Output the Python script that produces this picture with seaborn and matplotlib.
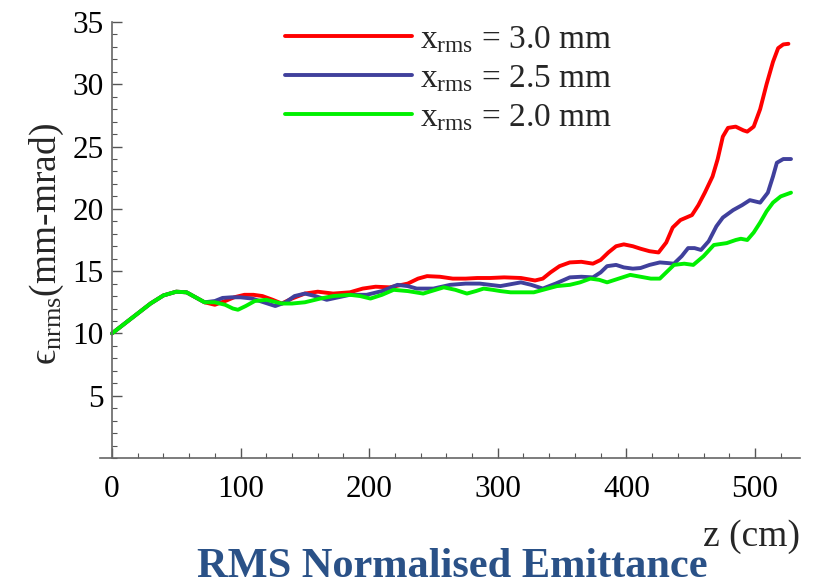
import numpy as np
import pandas as pd
import matplotlib
matplotlib.use("Agg")
import matplotlib.pyplot as plt
from matplotlib.ticker import MultipleLocator
import seaborn as sns

# ---- data ----
z_red = [0, 10, 20, 30, 40, 50, 58, 65, 72, 80, 88, 95, 103, 110, 117, 125, 132, 140, 150, 160,
         172, 185, 195, 205, 216, 230, 238, 245, 255, 265, 275, 284, 294, 305, 318, 329, 335, 341,
         348, 356, 365, 374, 380, 386, 392, 398, 405, 411, 418, 425, 431, 436, 442, 451, 456, 461,
         467, 471, 475, 479, 485, 491, 494, 499, 504, 509, 514, 518, 522, 526]
e_red = [10.0, 10.8, 11.6, 12.4, 13.05, 13.35, 13.3, 12.9, 12.5, 12.3, 12.6, 12.9, 13.1, 13.1, 13.0,
         12.7, 12.4, 12.8, 13.2, 13.35, 13.2, 13.3, 13.6, 13.75, 13.7, 14.0, 14.4, 14.6, 14.55, 14.4,
         14.4, 14.45, 14.45, 14.5, 14.45, 14.25, 14.4, 14.9, 15.4, 15.7, 15.75, 15.6, 15.9, 16.5,
         17.0, 17.15, 17.0, 16.8, 16.6, 16.5, 17.3, 18.5, 19.1, 19.5, 20.3, 21.3, 22.6, 24.0, 25.8,
         26.5, 26.6, 26.3, 26.2, 26.6, 28.0, 30.0, 31.8, 32.9, 33.2, 33.25]

z_blue = [0, 10, 20, 30, 40, 50, 58, 65, 72, 80, 86, 93, 100, 109, 118, 127, 135, 142, 150, 158,
          167, 176, 185, 198, 210, 222, 230, 237, 250, 263, 275, 286, 294, 302, 310, 318, 326, 335,
          345, 356, 365, 374, 380, 385, 392, 398, 405, 411, 418, 426, 432, 437, 443, 448, 453, 458,
          464, 470, 475, 483, 490, 496, 504, 510, 514, 517, 522, 528]
e_blue = [10.0, 10.8, 11.6, 12.4, 13.05, 13.35, 13.3, 12.9, 12.5, 12.6, 12.85, 12.9, 12.9, 12.8, 12.5,
          12.2, 12.5, 13.0, 13.2, 13.0, 12.7, 12.9, 13.1, 13.1, 13.4, 13.9, 13.8, 13.6, 13.6, 13.9,
          14.0, 14.0, 13.9, 13.8, 13.95, 14.1, 13.9, 13.6, 14.0, 14.5, 14.55, 14.5, 14.9, 15.4, 15.5,
          15.3, 15.2, 15.25, 15.5, 15.7, 15.65, 15.6, 16.2, 16.85, 16.85, 16.7, 17.4, 18.6, 19.3,
          19.9, 20.3, 20.7, 20.5, 21.3, 22.6, 23.7, 24.0, 24.0]

z_green = [0, 10, 20, 30, 40, 50, 58, 65, 72, 80, 88, 94, 98, 104, 111, 120, 132, 140, 150, 162,
           172, 185, 193, 201, 210, 219, 230, 242, 250, 258, 267, 276, 283, 289, 296, 302, 310, 320,
           328, 337, 346, 356, 364, 372, 379, 385, 394, 403, 411, 419, 426, 431, 437, 445, 452, 460,
           468, 478, 485, 489, 494, 499, 504, 509, 514, 520, 528]
e_green = [10.0, 10.8, 11.6, 12.4, 13.05, 13.35, 13.3, 12.9, 12.5, 12.5, 12.3, 12.0, 11.9, 12.2, 12.6,
           12.7, 12.4, 12.4, 12.5, 12.8, 13.0, 13.1, 13.0, 12.8, 13.1, 13.5, 13.4, 13.2, 13.45, 13.7,
           13.5, 13.2, 13.4, 13.6, 13.5, 13.4, 13.3, 13.3, 13.3, 13.55, 13.8, 13.9, 14.1, 14.4, 14.3,
           14.1, 14.4, 14.7, 14.55, 14.4, 14.4, 14.9, 15.5, 15.6, 15.5, 16.2, 17.1, 17.25, 17.5, 17.6,
           17.5, 18.1, 18.9, 19.8, 20.5, 21.0, 21.3]

labels = [r"$\mathrm{x_{rms}}$ = 3.0 mm", r"$\mathrm{x_{rms}}$ = 2.5 mm", r"$\mathrm{x_{rms}}$ = 2.0 mm"]
colors = ["#ff0000", "#40409c", "#00f000"]
x_ticks = [0, 100, 200, 300, 400, 500]
y_ticks = [5, 10, 15, 20, 25, 30, 35]

df = pd.concat([
    pd.DataFrame({"z": z_red, "eps": e_red, "series": labels[0]}),
    pd.DataFrame({"z": z_blue, "eps": e_blue, "series": labels[1]}),
    pd.DataFrame({"z": z_green, "eps": e_green, "series": labels[2]}),
], ignore_index=True)

# ---- style ----
sns.set_style("white")
plt.rcParams["font.family"] = ["Liberation Serif", "DejaVu Serif"]
plt.rcParams["mathtext.fontset"] = "custom"
plt.rcParams["mathtext.rm"] = "Liberation Serif"
plt.rcParams["mathtext.it"] = "Liberation Serif:italic"
plt.rcParams["mathtext.bf"] = "Liberation Serif:bold"
plt.rcParams["mathtext.fallback"] = "stix"

fig = plt.figure(figsize=(8.18, 5.88), dpi=100)
ax_left_px, ax_right_px = 100, 800
ax_top_px, ax_bot_px = 22, 458
ax = fig.add_axes([ax_left_px / 818, 1 - ax_bot_px / 588,
                   (ax_right_px - ax_left_px) / 818, (ax_bot_px - ax_top_px) / 588])

sns.lineplot(data=df, x="z", y="eps", hue="series", palette=colors, sort=False,
             estimator=None, linewidth=2.8, ax=ax, legend=True)

ax.set_xlim(-9.3, 535)
ax.set_ylim(0, 35)
ax.spines["left"].set_position(("data", 0))
ax.spines["top"].set_visible(False)
ax.spines["right"].set_visible(False)
for s in ("left", "bottom"):
    ax.spines[s].set_color("#666666")
    ax.spines[s].set_linewidth(1.2)

ax.set_xticks(x_ticks)
ax.set_yticks(y_ticks)
ax.xaxis.set_minor_locator(MultipleLocator(20))
ax.yaxis.set_minor_locator(MultipleLocator(1))
ax.tick_params(which="both", direction="in", color="#555555", labelsize=22.5, labelcolor="black",
               bottom=True, left=True, top=False, right=False)
ax.tick_params(which="major", length=7, width=1.0)
ax.tick_params(which="minor", length=3.5, width=0.8)
ax.tick_params(axis="x", pad=12)
ax.tick_params(axis="y", pad=6)
ax.set_xlabel("")
ax.set_ylabel("$\\mathrm{\u03f5_{nrms}}$(mm-mrad)", fontsize=27)
ax.yaxis.set_label_coords(-0.048, 0.49)

leg = ax.legend(loc="upper left", bbox_to_anchor=(285 / 818, 1 - 24 / 588),
                bbox_transform=fig.transFigure, frameon=False, fontsize=24,
                handlelength=3.8, handletextpad=0.25, labelspacing=0.25,
                borderpad=0, borderaxespad=0)
for line in leg.get_lines():
    line.set_linewidth(2.8)

fig.text(800 / 818, 1 - 537 / 588, "z (cm)", fontsize=27, ha="right", va="center")
fig.text(452 / 818, 1 - 567 / 588, "RMS Normalised Emittance", fontsize=30.5,
         fontweight="bold", color="#2a5187", ha="center", va="center")

fig.savefig("out.png", dpi=100)
